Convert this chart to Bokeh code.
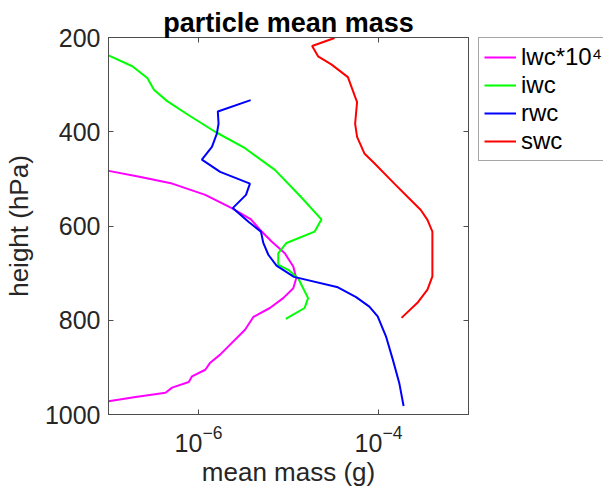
from bokeh.plotting import figure
from bokeh.layouts import row
from bokeh.models import (Range1d, FixedTicker, LinearAxis, LogAxis, Legend, LegendItem,
                          CustomJSTickFormatter)
from bokeh.embed import file_html
from bokeh.resources import INLINE

# Mean particle mass (g) against pressure level (hPa)
lwc_pressure = [483, 494, 510, 534, 562, 586, 608, 633, 658, 686, 711, 732, 753, 774,
                793, 820, 855, 873, 890, 905, 919, 931, 943, 954, 963, 972]
lwc_mass = [1.0e-7, 2.0e-7, 5.1e-7, 1.19e-6, 2.34e-6, 3.83e-6, 4.82e-6, 6.49e-6, 9.1e-6,
            1.13e-5, 1.22e-5, 1.13e-5, 8.73e-6, 6.21e-6, 4.07e-6, 3.29e-6, 2.16e-6,
            1.74e-6, 1.35e-6, 1.19e-6, 8.47e-7, 7.8e-7, 5.09e-7, 4.3e-7, 2.0e-7, 1.0e-7]

iwc_pressure = [238, 261, 286, 311, 335, 365, 400, 435, 481, 538, 586, 612, 636, 658,
                682, 693, 711, 753, 774, 797]
iwc_mass = [1.0e-7, 1.84e-7, 2.7e-7, 3.2e-7, 4.49e-7, 7.8e-7, 1.53e-6, 3.29e-6, 7.06e-6,
            1.37e-5, 2.32e-5, 1.95e-5, 9.5e-6, 7.69e-6, 7.69e-6, 9.93e-6, 1.28e-5,
            1.65e-5, 1.51e-5, 9.33e-6]

rwc_pressure = [333, 357, 383, 404, 432, 459, 485, 510, 534, 562, 591, 612, 636, 661,
                684, 708, 730, 751, 771, 792, 834, 883, 933, 982]
rwc_mass = [3.8e-6, 1.64e-6, 1.67e-6, 1.6e-6, 1.41e-6, 1.09e-6, 1.74e-6, 3.73e-6, 3.37e-6,
            2.4e-6, 3.59e-6, 4.94e-6, 5.25e-6, 5.97e-6, 7.36e-6, 1.15e-5, 3.54e-5,
            5.64e-5, 7.91e-5, 9.79e-5, 1.21e-4, 1.44e-4, 1.7e-4, 1.9e-4]

swc_pressure = [201, 218, 240, 257, 284, 326, 337, 383, 411, 446, 467, 510, 538, 566,
                587, 612, 707, 735, 763, 795]
swc_mass = [3.25e-5, 1.83e-5, 2.13e-5, 2.99e-5, 4.57e-5, 5.5e-5, 5.78e-5, 5.5e-5, 5.78e-5,
            6.97e-5, 9.0e-5, 1.5e-4, 2.1e-4, 2.95e-4, 3.5e-4, 3.97e-4, 3.97e-4, 3.5e-4,
            2.71e-4, 1.8e-4]

series_labels = ["lwc*10\u2074", "iwc", "rwc", "swc"]
series_colors = ["#ff00ff", "#00ff00", "#0000ff", "#ff0000"]

x_ticks = [1e-6, 1e-4]
y_ticks = [200, 400, 600, 800, 1000]

FONT = "Liberation Sans"
TEXT = "#262626"
AXIS = "#4d4d4d"

p = figure(width=478, height=489, x_axis_type="log",
           x_range=Range1d(1e-7, 1e-3), y_range=Range1d(1000, 200),
           output_backend="svg", toolbar_location=None,
           min_border_left=106, min_border_right=10,
           min_border_top=37, min_border_bottom=74,
           x_axis_label="mean mass (g)", y_axis_label="height (hPa)")

p.title.text = "particle mean mass"
p.title.text_font = FONT
p.title.text_font_size = "27px"
p.title.text_font_style = "bold"
p.title.text_color = "#000000"
p.title.align = "center"
p.title.standoff = 0

p.xgrid.visible = False
p.ygrid.visible = False
p.outline_line_color = AXIS
p.outline_line_width = 1

p.xaxis.ticker = FixedTicker(ticks=x_ticks, minor_ticks=[])
p.yaxis.ticker = FixedTicker(ticks=y_ticks, minor_ticks=[])

for ax in (p.xaxis[0], p.yaxis[0]):
    ax.axis_line_color = AXIS
    ax.major_tick_line_color = AXIS
    ax.major_tick_in = 5
    ax.major_tick_out = 0
    ax.minor_tick_line_color = None
    ax.major_label_text_font = FONT
    ax.major_label_text_font_size = "25px"
    ax.major_label_text_color = TEXT
    ax.axis_label_text_font = FONT
    ax.axis_label_text_font_size = "26px"
    ax.axis_label_text_font_style = "normal"
    ax.axis_label_text_color = TEXT

p.xaxis.major_label_standoff = 10
p.xaxis.axis_label_standoff = 2
p.yaxis.major_label_standoff = 8
p.yaxis.axis_label_standoff = 8

# mirrored tick marks on the top and right edges of the box (no labels)
blank = CustomJSTickFormatter(code="return ''")
top_axis = LogAxis(ticker=FixedTicker(ticks=x_ticks, minor_ticks=[]), formatter=blank,
                   axis_line_color=AXIS, major_tick_line_color=AXIS,
                   major_tick_in=5, major_tick_out=0, minor_tick_line_color=None,
                   major_label_text_font_size="1px", major_label_standoff=0)
right_axis = LinearAxis(ticker=FixedTicker(ticks=y_ticks, minor_ticks=[]), formatter=blank,
                        axis_line_color=AXIS, major_tick_line_color=AXIS,
                        major_tick_in=5, major_tick_out=0, minor_tick_line_color=None,
                        major_label_text_font_size="1px", major_label_standoff=0)
p.add_layout(top_axis, "above")
p.add_layout(right_axis, "right")

series = [(lwc_mass, lwc_pressure), (iwc_mass, iwc_pressure),
          (rwc_mass, rwc_pressure), (swc_mass, swc_pressure)]
for (mass, pres), color in zip(series, series_colors):
    p.line(mass, pres, line_color=color, line_width=2)

# legend panel to the right of the axes box; its key lines carry the same
# series but fall outside this panel's (unit) view, so only the keys show
lp = figure(width=125, height=489, output_backend="svg", toolbar_location=None,
            x_axis_location=None, y_axis_location=None,
            min_border_left=0, min_border_right=0, min_border_top=37, min_border_bottom=0,
            x_range=Range1d(0, 1), y_range=Range1d(0, 1))
lp.xgrid.visible = False
lp.ygrid.visible = False
lp.outline_line_color = None

items = []
for (mass, pres), label, color in zip(series, series_labels, series_colors):
    key = lp.line(mass, pres, line_color=color, line_width=2)
    items.append(LegendItem(label=label, renderers=[key]))

legend = Legend(items=items, location="top_left")
legend.label_text_font = FONT
legend.label_text_font_size = "24px"
legend.label_text_color = "#000000"
legend.glyph_width = 32
legend.glyph_height = 24
legend.label_standoff = 5
legend.spacing = -5
legend.padding = 5
legend.margin = 0
legend.border_line_color = AXIS
legend.border_line_width = 1
legend.background_fill_color = "white"
legend.background_fill_alpha = 1
lp.add_layout(legend)

open("out.html", "w").write(file_html(row(p, lp), INLINE))
